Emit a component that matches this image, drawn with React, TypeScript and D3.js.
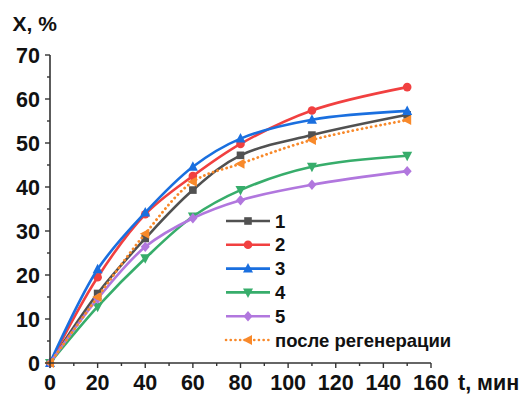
import React from "react";
import * as d3 from "d3";

const times = [0, 20, 40, 60, 80, 110, 150];
const s1 = [0, 15.8, 28.3, 39.3, 47.2, 51.8, 56.4];
const s2 = [0, 19.5, 33.8, 42.5, 49.8, 57.4, 62.7];
const s3 = [0, 21.3, 34.2, 44.6, 51.0, 55.3, 57.3];
const s4 = [0, 12.8, 23.8, 33.3, 39.3, 44.6, 47.1];
const s5 = [0, 14.6, 26.4, 32.9, 37.0, 40.5, 43.6];
const s6 = [0, 15.0, 29.4, 41.2, 45.3, 50.7, 55.2];
const seriesNames = ["1", "2", "3", "4", "5", "после регенерации"];
const seriesColors = ["#515151", "#F14040", "#1A6FDF", "#37AD6B", "#B177DE", "#F8892A"];
const seriesMarkers = ["square", "circle", "triUp", "triDown", "diamond", "triLeft"];
const xTicks = [0, 20, 40, 60, 80, 100, 120, 140, 160];
const yTicks = [0, 10, 20, 30, 40, 50, 60, 70];
const xLabel = "t, мин";
const yLabel = "X, %";

const allSeries = [s1, s2, s3, s4, s5, s6];
const FONT = "'Liberation Sans', Arial, sans-serif";

function Marker({ type, x, y, color }: { type: string; x: number; y: number; color: string }) {
  const s = 4.5;
  switch (type) {
    case "square":
      return <rect x={x - 3.8} y={y - 3.8} width={7.6} height={7.6} fill={color} />;
    case "circle":
      return <circle cx={x} cy={y} r={4.3} fill={color} />;
    case "triUp":
      return <path d={`M${x},${y - s - 1} L${x + s + 0.5},${y + s - 0.5} L${x - s - 0.5},${y + s - 0.5}Z`} fill={color} />;
    case "triDown":
      return <path d={`M${x},${y + s + 1} L${x + s + 0.5},${y - s + 0.5} L${x - s - 0.5},${y - s + 0.5}Z`} fill={color} />;
    case "diamond":
      return <path d={`M${x},${y - 5.2} L${x + 4.5},${y} L${x},${y + 5.2} L${x - 4.5},${y}Z`} fill={color} />;
    case "triLeft":
      return <path d={`M${x - s - 1},${y} L${x + s - 0.5},${y - s - 0.5} L${x + s - 0.5},${y + s + 0.5}Z`} fill={color} />;
  }
  return null;
}

export default function App() {
  const W = 525, H = 394;
  const x = d3.scaleLinear().domain([0, 160]).range([50, 431]);
  const y = d3.scaleLinear().domain([0, 70]).range([363, 55]);
  const line = d3
    .line<number>()
    .x((_, i) => x(times[i]))
    .y((d) => y(d))
    .curve(d3.curveCatmullRom.alpha(0.5));

  const xMinor = d3.range(10, 160, 20);
  const yMinor = d3.range(5, 70, 10);
  const axisColor = "#333";

  const legX0 = 226, legX1 = 270, legTextX = 275, legY0 = 221, legDy = 23.8;

  return (
    <svg width={W} height={H} style={{ position: "absolute", left: 0, top: 0, background: "#fff" }}>
      {allSeries.map((s, k) => (
        <g key={k}>
          <path
            d={line(s) || ""}
            fill="none"
            stroke={seriesColors[k]}
            strokeWidth={k === 5 ? 2.8 : 2.6}
            strokeDasharray={k === 5 ? "0.1 4.6" : undefined}
            strokeLinecap={k === 5 ? "round" : "butt"}
          />
          {s.map((v, i) => (
            <Marker key={i} type={seriesMarkers[k]} x={x(times[i])} y={y(v)} color={seriesColors[k]} />
          ))}
        </g>
      ))}
      <line x1={x(0)} x2={x(160)} y1={y(0)} y2={y(0)} stroke={axisColor} strokeWidth={1.6} />
      <line x1={x(0)} x2={x(0)} y1={y(0)} y2={y(70)} stroke={axisColor} strokeWidth={1.6} />
      {xTicks.map((t) => (
        <g key={"xt" + t}>
          <line x1={x(t)} x2={x(t)} y1={y(0)} y2={y(0) + 5} stroke={axisColor} strokeWidth={1.4} />
          <text x={x(t)} y={390} textAnchor="middle" fontFamily={FONT} fontWeight="bold" fontSize={21.5} fill="#111">
            {t}
          </text>
        </g>
      ))}
      {xMinor.map((t) => (
        <line key={"xm" + t} x1={x(t)} x2={x(t)} y1={y(0)} y2={y(0) + 3} stroke={axisColor} strokeWidth={1.4} />
      ))}
      {yTicks.map((t) => (
        <g key={"yt" + t}>
          <line x1={x(0) - 5} x2={x(0)} y1={y(t)} y2={y(t)} stroke={axisColor} strokeWidth={1.4} />
          <text x={40} y={y(t)} dy="0.36em" textAnchor="end" fontFamily={FONT} fontWeight="bold" fontSize={21.5} fill="#111">
            {t}
          </text>
        </g>
      ))}
      {yMinor.map((t) => (
        <line key={"ym" + t} x1={x(0) - 3} x2={x(0)} y1={y(t)} y2={y(t)} stroke={axisColor} strokeWidth={1.4} />
      ))}
      <text x={12.5} y={30.7} fontFamily={FONT} fontWeight="bold" fontSize={21} fill="#111">
        {yLabel}
      </text>
      <text x={458} y={390} fontFamily={FONT} fontWeight="bold" fontSize={21.5} fill="#111">
        {xLabel}
      </text>
      {seriesNames.map((n, k) => {
        const ly = legY0 + k * legDy;
        return (
          <g key={"lg" + k}>
            <line
              x1={legX0}
              x2={legX1}
              y1={ly}
              y2={ly}
              stroke={seriesColors[k]}
              strokeWidth={2.6}
              strokeDasharray={k === 5 ? "0.1 4.6" : undefined}
              strokeLinecap={k === 5 ? "round" : "butt"}
            />
            <Marker type={seriesMarkers[k]} x={(legX0 + legX1) / 2} y={ly} color={seriesColors[k]} />
            <text x={legTextX} y={ly} dy="0.36em" fontFamily={FONT} fontWeight="bold" fontSize={18.5} fill="#111">
              {n}
            </text>
          </g>
        );
      })}
    </svg>
  );
}
